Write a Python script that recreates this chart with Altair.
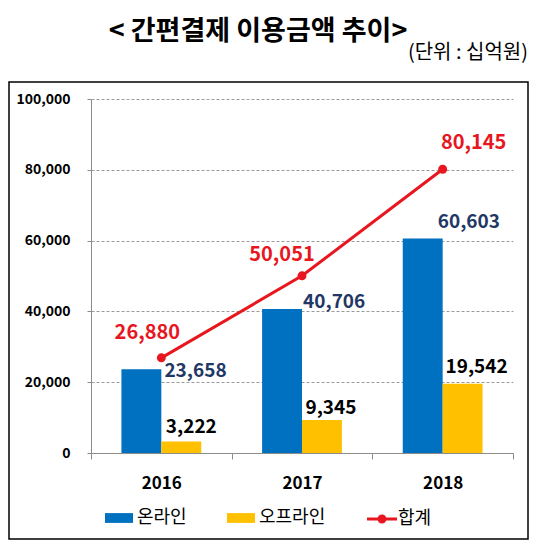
import altair as alt
import pandas as pd

years = ["2016", "2017", "2018"]
online = [23658, 40706, 60603]
offline = [3222, 9345, 19542]
total = [26880, 50051, 80145]
series_names = ["온라인", "오프라인"]
total_name = "합계"
title_text = "< 간편결제 이용금액 추이>"
unit_text = "(단위 : 십억원)"
y_ticks = [0, 20000, 40000, 60000, 80000, 100000]

bars_df = pd.DataFrame({
    "year": years * 2,
    "series": [series_names[0]] * 3 + [series_names[1]] * 3,
    "value": online + offline,
})
total_df = pd.DataFrame({"year": years, "series": [total_name] * 3, "value": total})

FONT = "Noto Sans CJK KR"
BLUE = "#0070C0"
YELLOW = "#FFC000"
RED = "#E8161E"
NAVY = "#1F3864"
GREY = "#8C8C8C"

RECT_PATH = "M-1,-0.35H1V0.35H-1Z"
LINE_PATH = "M-1,-0.1H1V0.1H-1Z M0.3,0A0.3,0.3 0 1,1 -0.3,0A0.3,0.3 0 1,1 0.3,0Z"

x_enc = alt.X(
    "year:N",
    sort=years,
    scale=alt.Scale(domain=years, paddingInner=0, paddingOuter=0),
    axis=alt.Axis(
        title=None, labelAngle=0, tickBand="extent", domainColor=GREY, tickColor=GREY,
        tickSize=6, labelPadding=16, labelFont=FONT, labelFontSize=17, labelFontWeight="bold",
        labelColor="black", grid=False,
    ),
)
y_enc = alt.Y(
    "value:Q",
    scale=alt.Scale(domain=[0, 100000], nice=False),
    axis=alt.Axis(
        title=None, values=y_ticks, labelExpr="format(datum.value, ',')", grid=True,
        gridDash=[3, 2], gridColor="#9A9A9A", domainColor=GREY, tickColor=GREY, tickSize=4,
        labelPadding=17, labelFont=FONT, labelFontSize=14, labelFontWeight="bold",
        labelColor="black",
    ),
)
xo = alt.XOffset(
    "series:N",
    sort=series_names,
    scale=alt.Scale(domain=series_names, paddingInner=0, paddingOuter=0.7625),
)

bars = alt.Chart(bars_df).mark_bar().encode(
    x=x_enc, xOffset=xo, y=y_enc,
    color=alt.Color(
        "series:N", sort=series_names,
        scale=alt.Scale(domain=series_names, range=[BLUE, YELLOW]),
        legend=alt.Legend(
            title=None, orient="none", legendX=14, legendY=405, direction="horizontal", columns=2,
            symbolType=RECT_PATH, symbolSize=784, symbolStrokeWidth=0, labelFont=FONT,
            labelFontSize=18, labelColor="black", labelOffset=4, columnPadding=40, padding=0,
        ),
    ),
)

# label placement per year: (dx, dy)
online_off = {"2016": (23, 2), "2017": (21, -7), "2018": (15, -16)}
offline_off = {"2016": (10, -15), "2017": (9, -12), "2018": (14, -17)}
total_off = {"2016": (-14, -25), "2017": (-20, -21), "2018": (31, -26)}

layers_lbl = []
for yr in years:
    dx, dy = online_off[yr]
    layers_lbl.append(
        alt.Chart(bars_df).transform_filter(
            (alt.datum.series == series_names[0]) & (alt.datum.year == yr)
        ).mark_text(
            align="left", baseline="middle", dx=dx, dy=dy, font=FONT, fontSize=19,
            fontWeight="bold", color=NAVY,
        ).encode(x=x_enc, xOffset=xo, y=y_enc, text=alt.Text("value:Q", format=","))
    )
    dx, dy = offline_off[yr]
    layers_lbl.append(
        alt.Chart(bars_df).transform_filter(
            (alt.datum.series == series_names[1]) & (alt.datum.year == yr)
        ).mark_text(
            align="center", baseline="middle", dx=dx, dy=dy, font=FONT, fontSize=19,
            fontWeight="bold", color="black",
        ).encode(x=x_enc, xOffset=xo, y=y_enc, text=alt.Text("value:Q", format=","))
    )
    dx, dy = total_off[yr]
    layers_lbl.append(
        alt.Chart(total_df).transform_filter(alt.datum.year == yr).mark_text(
            align="center", baseline="middle", dx=dx, dy=dy, font=FONT, fontSize=20,
            fontWeight="bold", color=RED,
        ).encode(x=x_enc, y=y_enc, text=alt.Text("value:Q", format=","))
    )

line = alt.Chart(total_df).mark_line(color=RED, strokeWidth=3).encode(x=x_enc, y=y_enc)
dots = alt.Chart(total_df).mark_circle(size=80, opacity=1, color=RED).encode(x=x_enc, y=y_enc)

legend_pts = alt.Chart(total_df).mark_point(filled=True, opacity=0, color=RED).encode(
    x=x_enc, y=y_enc,
    shape=alt.Shape(
        "series:N",
        scale=alt.Scale(domain=[total_name], range=[LINE_PATH]),
        legend=alt.Legend(
            title=None, orient="none", legendX=276, legendY=405, symbolSize=900,
            symbolFillColor=RED, symbolStrokeColor=RED, symbolStrokeWidth=0, symbolOpacity=1,
            labelFont=FONT, labelFontSize=18, labelColor="black", labelOffset=1, padding=0,
        ),
    ),
)

one = alt.Data(values=[{"k": 1}])
title = alt.Chart(one).mark_text(
    text=title_text, align="center", baseline="middle", font=FONT, fontSize=27,
    fontWeight="bold", color="black",
).encode(x=alt.value(167), y=alt.value(-67))
unit = alt.Chart(one).mark_text(
    text=unit_text, align="right", baseline="middle", font=FONT, fontSize=20, color="black"
).encode(x=alt.value(437), y=alt.value(-46))
frame = alt.Chart(one).mark_rect(fillOpacity=0, stroke="black", strokeWidth=1.5).encode(
    x=alt.value(-82), x2=alt.value(437), y=alt.value(-17), y2=alt.value(440)
)

chart = alt.layer(
    frame, bars, line, dots, legend_pts, *layers_lbl, title, unit
).properties(
    width=422, height=354, autosize="none",
    padding={"left": 83, "top": 91, "right": 16, "bottom": 88},
    background="white",
).configure_view(stroke=None)

chart.save("out.html", embed_options={"renderer": "svg", "actions": False})
